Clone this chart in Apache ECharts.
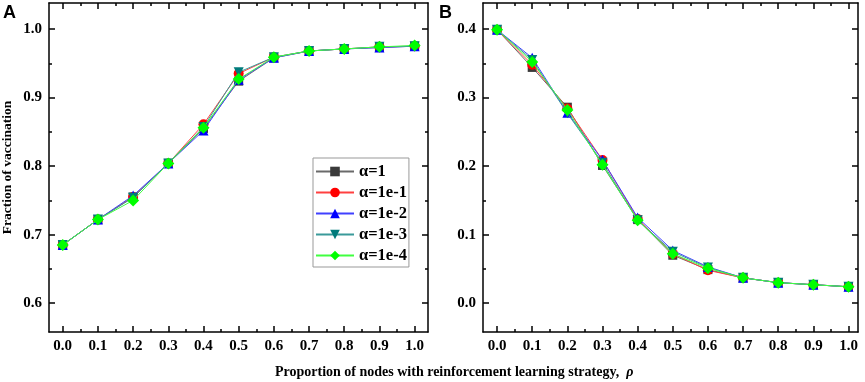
<!DOCTYPE html>
<html>
<head>
<meta charset="utf-8">
<script src="https://cdn.jsdelivr.net/npm/echarts@6/dist/echarts.min.js"></script>
<style>
  html, body { margin: 0; padding: 0; background: #fff; }
  #chart { width: 865px; height: 382px; }
</style>
</head>
<body>
<div id="chart"></div>
<script>
// x positions (rho)
var rho = [0.0, 0.1, 0.2, 0.3, 0.4, 0.5, 0.6, 0.7, 0.8, 0.9, 1.0];
var names = ["α=1", "α=1e-1", "α=1e-2", "α=1e-3", "α=1e-4"];

// panel A: fraction of vaccination
var vacA1    = [0.685, 0.722, 0.755, 0.804, 0.855, 0.924, 0.958, 0.968, 0.971, 0.973, 0.975];
var vacA1e1  = [0.685, 0.722, 0.755, 0.804, 0.861, 0.935, 0.959, 0.968, 0.971, 0.974, 0.975];
var vacA1e2  = [0.685, 0.722, 0.757, 0.804, 0.852, 0.926, 0.958, 0.968, 0.971, 0.973, 0.975];
var vacA1e3  = [0.685, 0.722, 0.754, 0.804, 0.857, 0.937, 0.959, 0.968, 0.971, 0.974, 0.975];
var vacA1e4  = [0.685, 0.722, 0.750, 0.804, 0.856, 0.927, 0.959, 0.968, 0.971, 0.974, 0.976];

// panel B
var valB1    = [0.399, 0.344, 0.286, 0.201, 0.122, 0.070, 0.049, 0.037, 0.030, 0.027, 0.024];
var valB1e1  = [0.399, 0.348, 0.284, 0.209, 0.123, 0.072, 0.048, 0.037, 0.030, 0.027, 0.024];
var valB1e2  = [0.399, 0.358, 0.278, 0.209, 0.125, 0.077, 0.053, 0.037, 0.030, 0.027, 0.024];
var valB1e3  = [0.399, 0.355, 0.277, 0.205, 0.121, 0.075, 0.052, 0.037, 0.030, 0.027, 0.024];
var valB1e4  = [0.399, 0.352, 0.282, 0.202, 0.121, 0.072, 0.051, 0.037, 0.030, 0.027, 0.024];

var xMajor = [0, 0.1, 0.2, 0.3, 0.4, 0.5, 0.6, 0.7, 0.8, 0.9, 1.0];
var xMinor = [0.05, 0.15, 0.25, 0.35, 0.45, 0.55, 0.65, 0.75, 0.85, 0.95];
var yMajorA = [0.6, 0.7, 0.8, 0.9, 1.0];
var yMinorA = [0.65, 0.75, 0.85, 0.95];
var yMajorB = [0.0, 0.1, 0.2, 0.3, 0.4];
var yMinorB = [0.05, 0.15, 0.25, 0.35];

var markColors = ["#3a3a3a", "#ff0000", "#0000ff", "#007b7b", "#00ff00"];
var lineColors = ["#6a6a6a", "#ff4040", "#4040ff", "#3a9a9a", "#40ff40"];
var symbols = ["rect", "circle", "triangle", "triangle", "diamond"];
var symbolRot = [0, 0, 0, 180, 0];
var symbolSizes = [9, 10, 10, 10, 12];

var serif = "'Liberation Serif', 'Times New Roman', serif";
var sans = "'Liberation Sans', Arial, sans-serif";

function pairs(ys) {
  return rho.map(function (x, i) { return [x, ys[i]]; });
}

// builds the 4 axes (major/minor, both sides) for one direction of one grid
function axes(dir, gridIndex, min, max, major, minor, name) {
  var list = [];
  var sides = dir === "x" ? ["bottom", "top"] : ["left", "right"];
  sides.forEach(function (pos, s) {
    [major, minor].forEach(function (vals, m) {
      var ax = {
        type: "value",
        gridIndex: gridIndex,
        position: pos,
        min: min,
        max: max,
        splitLine: { show: false },
        axisLine: { show: m === 0, onZero: false, lineStyle: { color: "#000", width: 1.5 } },
        axisTick: { show: true, inside: true, customValues: vals, length: m === 0 ? 6 : 3,
                    lineStyle: { color: "#000", width: 1.5 } },
        axisLabel: { show: false }
      };
      if (s === 0 && m === 0) {
        ax.axisLabel = {
          show: true, customValues: vals, margin: dir === "x" ? 7 : 7,
          formatter: function (v) { return v.toFixed(1); },
          fontFamily: serif, fontWeight: "bold", fontSize: 15, color: "#000"
        };
        if (name) {
          ax.name = name;
          ax.nameLocation = "middle";
          ax.nameGap = 34;
          ax.nameTextStyle = { fontFamily: serif, fontWeight: "bold", fontSize: 13.5, color: "#000" };
        }
      }
      list.push(ax);
    });
  });
  return list;
}

var xAxes = [].concat(
  axes("x", 0, -0.039, 1.038, xMajor, xMinor),
  axes("x", 1, -0.04, 1.027, xMajor, xMinor)
);
var yAxes = [].concat(
  axes("y", 0, 0.558, 1.038, yMajorA, yMinorA, "Fraction of vaccination"),
  axes("y", 1, -0.042, 0.438, yMajorB, yMinorB)
);

var seriesA = [vacA1, vacA1e1, vacA1e2, vacA1e3, vacA1e4];
var seriesB = [valB1, valB1e1, valB1e2, valB1e3, valB1e4];

var series = [];
[seriesA, seriesB].forEach(function (set, g) {
  set.forEach(function (ys, i) {
    series.push({
      name: names[i],
      type: "line",
      xAxisIndex: g * 4,
      yAxisIndex: g * 4,
      data: pairs(ys),
      symbol: symbols[i],
      symbolRotate: symbolRot[i],
      symbolSize: symbolSizes[i],
      showAllSymbol: true,
      itemStyle: { color: markColors[i] },
      lineStyle: { color: lineColors[i], width: 1 },
      emphasis: { disabled: true },
      animation: false,
      z: 2 + i
    });
  });
});

var myChart = echarts.init(document.getElementById("chart"));
myChart.setOption({
  animation: false,
  title: [
    { text: "A", left: 3, top: 4, padding: 0, textStyle: { fontFamily: sans, fontWeight: "bold", fontSize: 18, color: "#000" } },
    { text: "B", left: 439, top: 4, padding: 0, textStyle: { fontFamily: sans, fontWeight: "bold", fontSize: 18, color: "#000" } },
    {
      text: "Proportion of nodes with reinforcement learning strategy,  {r|ρ}",
      left: 275, top: 365, padding: 0,
      textStyle: {
        fontFamily: serif, fontWeight: "bold", fontSize: 14, color: "#000",
        rich: { r: { fontFamily: serif, fontWeight: "bold", fontStyle: "italic", fontSize: 14, color: "#000" } }
      }
    }
  ],
  grid: [
    { left: 49, right: 437, top: 3, bottom: 50 },
    { left: 483, right: 7, top: 3, bottom: 50 }
  ],
  legend: {
    data: names,
    orient: "vertical",
    left: 313,
    top: 158,
    itemWidth: 38,
    itemHeight: 12,
    itemGap: 4,
    padding: [5, 2, 3, 2],
    borderColor: "#999",
    borderWidth: 1,
    backgroundColor: "#fff",
    textStyle: { fontFamily: serif, fontWeight: "bold", fontSize: 16.5, color: "#000" }
  },
  xAxis: xAxes,
  yAxis: yAxes,
  series: series
});
</script>
</body>
</html>
